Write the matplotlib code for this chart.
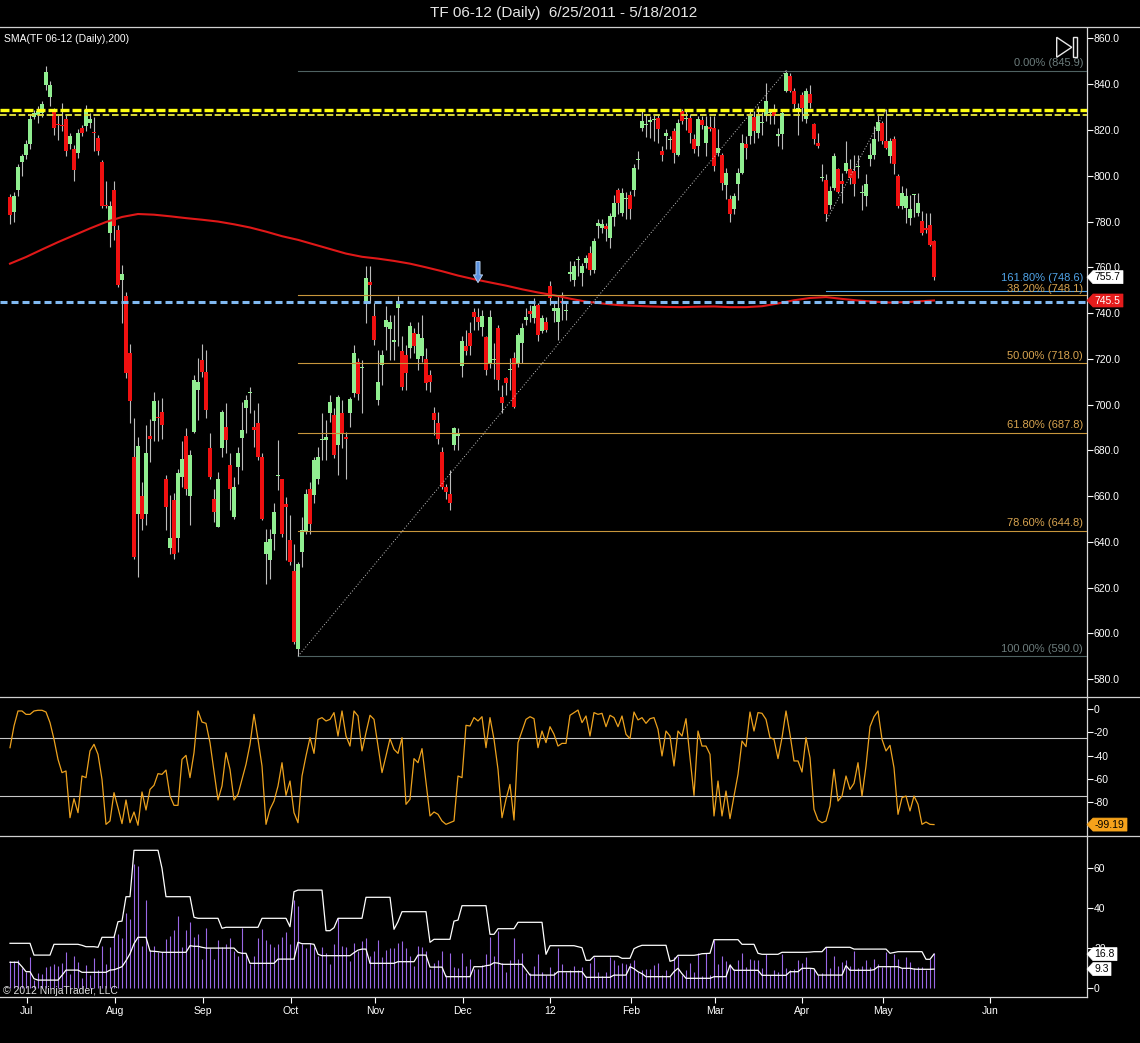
import matplotlib
matplotlib.use('Agg')
import matplotlib.pyplot as plt
import numpy as np
from matplotlib.transforms import IdentityTransform, blended_transform_factory
from matplotlib.patches import Polygon, Rectangle
from matplotlib.lines import Line2D

plt.rcParams['font.family'] = ['Liberation Sans', 'DejaVu Sans']
plt.rcParams['axes.unicode_minus'] = False

# ---------------- DATA ----------------
title = "TF 06-12 (Daily)  6/25/2011 - 5/18/2012"
sma_label = "SMA(TF 06-12 (Daily),200)"
copyright_text = "\u00a9 2012 NinjaTrader, LLC"

opens = [
    790.6, 784.3, 793.7, 806.2, 809.3, 814.0, 825.8, 826.5, 827.3, 839.8,
    834.4, 828.1, 822.5, 821.9, 825.0, 814.0, 811.7, 810.1, 821.1, 821.9,
    823.1, 818.9, 816.4, 806.2, 787.4, 774.9, 793.7, 776.5, 754.6, 747.5,
    722.5, 677.1, 652.1, 659.9, 652.1, 686.5, 692.8, 694.6, 696.7, 667.3,
    637.2, 658.4, 641.9, 668.5, 686.5, 659.9, 688.2, 706.4, 719.3, 714.4,
    680.9, 658.9, 646.5, 680.9, 690.4, 673.5, 650.9, 672.8, 685.2, 698.4,
    705.0, 690.4, 692.1, 677.2, 634.8, 631.9, 643.6, 668.7, 667.3, 656.5,
    640.7, 627.3, 593.2, 635.6, 644.4, 663.3, 660.4, 667.7, 684.5, 684.5,
    696.2, 695.5, 682.3, 696.2, 685.7, 696.2, 704.9, 718.8, 715.9, 744.4,
    753.4, 738.8, 702.0, 717.4, 733.8, 733.0, 727.5, 742.2, 723.5, 721.7,
    724.6, 731.2, 719.8, 721.3, 719.8, 713.0, 696.2, 692.1, 679.4, 663.8,
    660.8, 682.3, 686.5, 716.9, 725.7, 731.2, 740.3, 738.5, 733.8, 729.5,
    718.1, 719.4, 733.4, 703.5, 711.5, 715.0, 720.3, 718.1, 726.9, 737.1,
    740.7, 737.8, 743.6, 732.0, 736.3, 751.7, 740.7, 735.9, 745.1, 741.0,
    757.2, 754.6, 763.0, 757.5, 761.9, 766.3, 759.0, 778.0, 777.2, 778.0,
    772.8, 782.0, 794.0, 783.8, 790.0, 791.8, 794.0, 807.0, 821.0, 822.3,
    823.5, 824.5, 825.4, 810.8, 817.4, 815.8, 819.5, 809.3, 828.3, 825.0,
    825.4, 815.9, 813.0, 824.4, 814.5, 821.3, 821.0, 810.1, 809.3, 795.8,
    790.0, 785.3, 796.2, 801.3, 813.7, 817.4, 825.8, 818.8, 823.0, 826.1,
    827.5, 828.3, 817.4, 818.1, 837.1, 843.7, 837.1, 829.0, 835.2, 824.7,
    835.9, 822.5, 814.5, 799.0, 798.1, 787.4, 794.7, 802.8, 797.6, 802.0,
    802.8, 802.0, 804.0, 792.3, 791.1, 807.2, 809.3, 819.6, 822.9, 815.2,
    808.6, 816.0, 799.8, 786.7, 786.0, 781.6, 791.5, 783.8, 780.1, 777.2,
    778.7, 771.4]

highs = [
    792.1, 792.9, 805.0, 809.7, 815.6, 826.9, 828.9, 830.4, 832.8, 848.0,
    841.4, 829.7, 826.5, 832.0, 826.5, 818.7, 813.3, 820.6, 822.2, 830.9,
    827.3, 825.8, 818.0, 807.0, 797.6, 789.0, 797.6, 778.4, 760.8, 749.1,
    726.4, 694.3, 685.7, 666.2, 691.2, 693.6, 705.3, 702.2, 703.0, 669.3,
    660.7, 661.5, 671.7, 684.2, 689.7, 680.3, 713.0, 720.3, 726.6, 723.9,
    687.7, 663.3, 670.6, 697.6, 700.6, 678.7, 668.4, 681.6, 701.3, 704.2,
    707.9, 697.6, 700.6, 678.7, 645.8, 645.8, 656.8, 684.5, 667.7, 659.7,
    651.6, 639.2, 631.2, 650.9, 663.3, 666.2, 677.2, 681.6, 696.2, 693.3,
    704.2, 698.4, 704.2, 702.0, 688.1, 703.5, 726.1, 720.3, 719.6, 760.4,
    760.4, 744.4, 723.9, 723.9, 742.9, 739.3, 739.3, 747.6, 729.8, 726.1,
    736.3, 733.4, 736.3, 739.3, 724.6, 715.2, 699.1, 696.9, 681.6, 665.5,
    671.4, 690.3, 689.9, 729.8, 732.7, 736.3, 742.2, 742.2, 741.4, 729.8,
    741.4, 727.0, 734.9, 708.6, 712.2, 720.3, 723.2, 731.2, 735.6, 742.2,
    743.6, 746.6, 744.4, 739.3, 738.5, 753.9, 744.4, 748.0, 749.0, 745.0,
    762.6, 762.6, 764.8, 761.9, 765.5, 769.2, 772.8, 780.9, 780.9, 779.4,
    783.8, 791.8, 794.7, 794.7, 793.0, 793.3, 805.0, 810.8, 828.3, 826.5,
    826.1, 826.5, 826.9, 813.0, 820.3, 817.4, 821.0, 824.7, 829.1, 829.0,
    826.9, 818.1, 826.1, 826.1, 826.1, 826.1, 826.1, 820.3, 810.1, 803.5,
    791.8, 792.5, 803.5, 818.1, 817.4, 828.3, 828.3, 830.5, 828.0, 840.7,
    829.0, 831.2, 821.0, 828.3, 846.1, 845.1, 838.5, 832.0, 836.4, 838.5,
    839.6, 823.2, 818.8, 805.0, 800.6, 795.4, 810.1, 803.5, 801.3, 815.2,
    807.2, 809.3, 809.0, 796.0, 800.6, 814.5, 821.7, 826.9, 824.0, 829.3,
    816.6, 817.4, 800.6, 795.4, 794.7, 791.8, 792.0, 792.5, 784.5, 783.8,
    783.8, 772.1]

lows = [
    778.8, 779.6, 791.3, 800.0, 807.5, 811.7, 825.0, 823.1, 825.8, 837.5,
    830.5, 818.0, 815.6, 819.5, 808.6, 811.7, 797.6, 807.8, 817.2, 819.5,
    821.1, 810.9, 809.3, 785.9, 785.9, 768.7, 771.8, 751.4, 735.8, 711.6,
    692.0, 632.5, 624.7, 645.1, 647.4, 674.8, 684.2, 684.2, 685.0, 645.1,
    634.9, 632.5, 635.7, 663.8, 660.7, 647.4, 687.4, 693.3, 712.2, 694.0,
    667.7, 648.7, 646.5, 677.2, 678.7, 653.8, 650.2, 665.5, 671.4, 687.4,
    696.2, 681.6, 675.8, 649.5, 621.7, 623.9, 636.3, 662.6, 642.2, 631.9,
    629.7, 595.4, 590.3, 629.0, 643.6, 643.6, 656.8, 665.5, 675.8, 675.8,
    692.5, 676.5, 669.2, 680.9, 667.7, 690.3, 703.5, 702.0, 696.2, 735.6,
    744.4, 726.1, 699.8, 708.6, 723.9, 719.6, 719.6, 725.4, 706.4, 706.4,
    720.3, 722.5, 715.2, 718.8, 706.4, 705.7, 686.7, 683.0, 663.3, 658.9,
    653.8, 680.1, 680.0, 712.2, 721.7, 721.7, 732.7, 732.7, 729.8, 713.0,
    715.9, 711.0, 706.4, 696.2, 704.2, 706.4, 698.4, 716.6, 718.1, 734.9,
    736.3, 735.6, 727.6, 731.2, 731.9, 743.6, 736.3, 728.3, 737.1, 737.0,
    753.9, 751.7, 756.0, 751.7, 759.7, 756.8, 757.5, 772.8, 775.1, 771.4,
    768.4, 778.0, 783.1, 782.3, 781.0, 780.9, 791.0, 802.8, 819.5, 817.0,
    816.6, 815.0, 814.5, 806.4, 811.5, 811.5, 805.7, 808.6, 822.5, 820.0,
    814.5, 810.1, 808.6, 820.3, 808.6, 819.6, 802.0, 808.6, 794.0, 790.0,
    779.7, 783.1, 789.6, 800.6, 807.2, 813.7, 814.5, 816.6, 818.0, 824.0,
    822.5, 822.5, 813.0, 811.5, 836.4, 836.4, 829.0, 818.0, 824.0, 823.2,
    829.8, 813.7, 812.3, 797.6, 780.1, 785.3, 794.0, 792.5, 788.2, 801.3,
    796.2, 791.1, 799.0, 785.0, 786.7, 804.2, 807.2, 815.2, 813.7, 811.5,
    805.7, 800.6, 786.0, 785.3, 779.4, 778.7, 782.0, 782.3, 774.3, 775.0,
    769.2, 754.6]

closes = [
    782.7, 791.3, 803.9, 808.6, 813.7, 825.0, 827.3, 828.4, 831.3, 845.3,
    839.8, 821.1, 822.0, 821.7, 810.9, 817.2, 802.6, 818.7, 818.7, 828.9,
    824.7, 818.6, 810.9, 786.7, 786.7, 786.7, 778.1, 752.2, 756.9, 713.9,
    701.4, 633.3, 681.8, 649.8, 678.7, 685.0, 701.4, 694.3, 691.2, 655.2,
    641.9, 634.9, 670.1, 676.4, 663.1, 677.9, 710.8, 710.0, 714.4, 697.6,
    668.4, 653.1, 667.7, 696.9, 684.5, 663.3, 664.0, 678.7, 688.9, 702.0,
    705.3, 689.0, 677.2, 650.2, 640.0, 641.4, 653.1, 668.9, 643.6, 655.3,
    631.2, 596.2, 630.5, 645.1, 661.1, 648.0, 675.8, 677.2, 684.7, 685.9,
    701.3, 677.9, 703.5, 687.4, 684.8, 702.3, 722.5, 704.6, 716.1, 755.3,
    752.4, 728.3, 710.0, 721.8, 737.1, 736.3, 728.3, 745.1, 707.9, 713.7,
    734.4, 725.7, 730.9, 729.0, 709.6, 710.1, 693.3, 684.8, 664.1, 661.9,
    656.8, 689.6, 686.9, 728.0, 723.6, 725.4, 738.5, 735.9, 738.8, 715.2,
    738.2, 719.8, 710.8, 700.6, 709.3, 715.3, 699.1, 730.5, 733.4, 738.2,
    739.7, 742.9, 730.5, 737.8, 732.7, 746.6, 742.2, 742.2, 744.4, 741.3,
    757.8, 760.4, 763.3, 760.4, 764.1, 759.0, 771.4, 779.4, 779.1, 776.8,
    782.6, 788.2, 788.2, 792.5, 790.3, 785.3, 803.5, 807.2, 823.9, 822.6,
    824.5, 824.8, 820.3, 809.3, 818.8, 815.9, 810.1, 823.2, 824.0, 825.2,
    818.8, 811.5, 824.7, 822.0, 821.7, 820.3, 804.2, 812.3, 797.0, 801.3,
    783.5, 791.1, 801.3, 814.5, 812.3, 826.9, 819.5, 826.9, 823.3, 832.7,
    827.7, 826.1, 818.4, 827.6, 845.1, 837.1, 831.2, 829.2, 829.8, 837.1,
    832.0, 815.9, 813.0, 799.2, 783.5, 793.3, 808.6, 792.8, 796.2, 805.7,
    799.1, 796.6, 804.2, 792.5, 796.6, 809.3, 815.9, 823.5, 815.2, 812.3,
    815.2, 805.0, 786.7, 792.5, 791.1, 785.3, 791.8, 787.9, 775.1, 776.2,
    769.9, 755.7]

# SMA(200) read every 4th bar (bars 0,4,...,228) plus the last bar (231)
sma_every4 = [761.6, 764.5, 767.8, 771.0, 774.0, 777.0, 779.8, 782.0, 783.3, 783.0,
              782.3, 781.5, 780.8, 780.0, 778.8, 777.4, 775.6, 773.6, 772.0, 770.0,
              768.0, 766.0, 764.6, 763.8, 762.8, 761.6, 760.0, 758.3, 756.4, 754.8,
              753.4, 752.0, 750.4, 749.0, 747.8, 746.3, 745.0, 744.2, 743.5, 743.2,
              742.9, 742.7, 742.6, 742.8, 742.9, 742.6, 742.6, 743.0, 744.2, 745.6,
              746.6, 747.0, 746.2, 745.5, 745.0, 744.6, 744.8, 745.2]
sma_last = 745.5

williams_r = [
    -33.2, -14.6, -1.7, -1.7, -4.6, -4.6, -1.7, -1.1, -1.1, -2.6,
    -11.7, -26.0, -43.2, -54.6, -53.2, -93.3, -77.0, -89.0, -57.5, -58.9,
    -36.0, -30.3, -38.9, -60.4, -99.0, -96.1, -71.8, -84.7, -98.4, -78.1,
    -97.6, -88.4, -99.8, -71.2, -86.7, -69.0, -65.5, -55.5, -56.1, -52.4,
    -74.7, -82.7, -82.7, -43.2, -39.8, -58.9, -37.5, -1.7, -11.2, -12.3,
    -28.9, -53.2, -78.1, -66.1, -37.5, -51.8, -78.1, -73.2, -60.4, -47.5,
    -30.3, -4.6, -26.0, -48.9, -99.0, -86.1, -79.0, -66.1, -46.1, -74.1,
    -61.8, -89.0, -97.6, -57.5, -40.3, -24.6, -38.1, -8.9, -7.4, -10.3,
    -8.9, -3.1, -23.2, -1.7, -23.2, -31.8, -1.7, -6.0, -36.0, -20.3,
    -5.4, -8.9, -31.8, -54.6, -40.3, -25.5, -34.6, -38.1, -24.6, -81.8,
    -77.5, -42.6, -46.1, -34.0, -63.2, -91.8, -88.4, -90.4, -96.1, -99.0,
    -97.6, -96.1, -57.5, -58.9, -14.0,
    -14.6, -7.4, -10.3, -6.6, -33.2, -7.4, -26.0, -51.8, -93.3, -77.5,
    -64.7, -95.3, -28.9, -18.9, -8.9, -6.6, -8.3, -33.2, -18.9, -28.9,
    -15.2, -21.7, -31.8, -29.5, -29.5, -5.4, -3.1, -0.9, -11.7, -6.0,
    -23.2, -3.1, -4.6, -3.7, -15.2, -5.4, -7.4, -15.2, -6.0, -21.7,
    -25.5, -2.6, -9.4, -7.4, -12.3, -8.3, -7.4, -17.5, -40.3, -18.9,
    -23.2, -48.9, -18.9, -23.2, -8.3, -41.8, -74.1, -18.9, -31.8, -31.8,
    -38.9, -91.8, -61.8, -91.8, -70.4, -94.1, -74.7, -56.1, -27.5, -32.3,
    -2.6, -18.9, -3.1, -3.7, -8.9, -24.6, -26.0, -42.6, -24.6, -1.7,
    -21.7, -44.6, -44.6, -54.1, -24.6, -41.8, -86.1, -95.3, -97.6, -96.1,
    -83.3, -51.8, -79.0, -74.7, -57.5, -69.0, -63.8, -46.1, -74.7, -48.9,
    -15.2, -6.6, -1.7, -26.0, -36.0, -31.2, -50.4, -90.4, -76.1, -74.7,
    -87.5, -74.7, -81.8, -99.0, -97.0, -99.0, -99.19]

range_upper = ([22.2]*6 + [16.3]*5 + [21.7]*7 + [21.2] + [20.5]*3 + [20.2] + [25.2]*4 +
               [33.0] + [33.3] + [45.5]*2 + [68.7]*7 + [59.7] + [45.5]*7 + [35.2] +
               [34.7]*6 + [29.7] + [30.2]*9 + [34.7]*7 + [30.5] + [48.0] + [48.8]*7 +
               [28.5]*2 + [30.0] + [34.7]*7 + [45.2]*7 + [29.2] + [33.0] + [38.0]*7 +
               [22.7] + [24.2]*5 + [33.3] + [33.8] + [41.0]*7 + [26.7]*2 + [29.5]*5 +
               [32.7]*7 + [16.7] + [21.0]*7 + [20.5] + [20.0] + [13.7]*2 + [15.7]*7 +
               [14.7]*3 + [19.5] + [20.5] + [21.2]*7 + [13.2] + [13.8] + [16.2]*5 +
               [16.5] + [17.0] + [17.1] + [17.2] + [24.0]*7 + [21.7]*4 + [17.2] +
               [16.7]*5 + [17.7]*7 + [17.8] + [18.0]*3 + [20.2]*7 + [19.3]*9 + [17.2] +
               [17.6] + [18.0]*7 + [14.2]*2 + [16.8])

range_lower = ([12.7]*3 + [10.5] + [8.0]*2 + [4.5] + [3.8]*6 + [6.2] + [8.8]*4 + [7.7]*7 +
               [8.8] + [9.0] + [9.7] + [10.5] + [13.5] + [17.0] + [22.0] + [25.2]*3 +
               [18.3] + [18.2] + [18.0] + [17.7]*7 + [21.0] + [20.7]*2 + [20.2] +
               [19.8]*8 + [17.7] + [17.2]*2 + [12.2]*7 + [14.3]*5 + [22.7] + [22.0]*3 +
               [21.7] + [16.7] + [16.0]*8 + [17.5] + [18.8] + [19.3]*2 + [12.2]*7 +
               [13.0]*5 + [16.3]*3 + [10.3]*4 + [5.5]*7 + [10.5]*3 + [11.0] + [11.3] +
               [12.5] + [12.3] + [11.7]*6 + [9.0] + [6.3]*7 + [8.0]*7 + [5.2]*7 +
               [6.3]*4 + [10.5] + [9.5] + [8.0] + [7.0] + [5.5]*7 + [8.0] + [9.7] +
               [7.0] + [4.7]*7 + [5.5]*4 + [11.3] + [8.7]*7 + [6.2]*7 + [8.0]*3 +
               [9.7]*3 + [9.5] + [6.3]*7 + [11.0] + [8.7]*6 + [9.0] + [10.5]*6 +
               [9.7]*3 + [9.3] + [9.2]*4 + [9.3])

month_labels = ["Jul", "Aug", "Sep", "Oct", "Nov", "Dec", "12", "Feb", "Mar", "Apr", "May", "Jun"]

price_ticks = [580, 600, 620, 640, 660, 680, 700, 720, 740, 760, 780, 800, 820, 840, 860]
wr_ticks = [0, -20, -40, -60, -80]
wr_levels = [-25, -75]
range_ticks = [0, 20, 40, 60]

# drawing objects (user drawn on chart)
yellow_lines = [828.8, 826.6]
blue_line = 745.0
fib_low_bar, fib_low = 72, 590.0
fib_high_bar, fib_high = 194, 845.9
fib_levels = [845.9, 748.1, 718.0, 687.8, 644.8, 590.0]
fib_texts = ["0.00% (845.9)", "38.20% (748.1)", "50.00% (718.0)",
             "61.80% (687.8)", "78.60% (644.8)", "100.00% (590.0)"]
ext_start_bar, ext_start_val = 204, 780.1
ext_end_bar, ext_end_val = 219, 829.0
ext_level = 749.7
ext_text = "161.80% (748.6)"
arrow_bar, arrow_top, arrow_tip = 117, 762.5, 753.3

# ---------------- LAYOUT ----------------
W, H = 1140, 1043
fig = plt.figure(figsize=(W / 100, H / 100), dpi=100, facecolor='black')

def fy(y):
    return 1 - y / H

RIGHT = 1086.5
TOP, SEP1, SEP2, BOT = 27.5, 697.3, 836.0, 996.7
ax1 = fig.add_axes([0, fy(SEP1), RIGHT / W, (SEP1 - TOP) / H])
ax2 = fig.add_axes([0, fy(SEP2), RIGHT / W, (SEP2 - SEP1) / H], sharex=ax1)
ax3 = fig.add_axes([0, fy(BOT), RIGHT / W, (BOT - SEP2) / H], sharex=ax1)

N = len(closes)
x = np.arange(N)
o = np.array(opens); h = np.array(highs); l = np.array(lows); c = np.array(closes)

GREY = '#c8c8c8'
for ax in (ax1, ax2, ax3):
    ax.set_facecolor('black')
    for s in ('left', 'top', 'bottom'):
        ax.spines[s].set_visible(False)
    ax.spines['right'].set_color('#d8d8d8')
    ax.spines['right'].set_linewidth(0.9)
    ax.yaxis.tick_right()
    ax.tick_params(axis='y', colors='white', labelcolor='white', labelsize=7.5,
                   length=4.2, width=0.8, pad=1.2)
    ax.tick_params(axis='x', bottom=False, labelbottom=False)

ax3.spines['bottom'].set_visible(True)
ax3.spines['bottom'].set_color('#d8d8d8')
ax3.spines['bottom'].set_linewidth(0.9)

ax1.set_xlim(-10 / 4.0, (RIGHT - 10) / 4.0)
ax1.set_ylim(572.1, 864.8)
ax2.set_ylim(-109.0, 10.04)
ax3.set_ylim(-4.5, 75.85)

# ---------------- PRICE PANEL ----------------
ax1.vlines(x, l, h, color='#bcbcbc', lw=0.8, zorder=2)
up = c >= o
bb = np.minimum(o, c)
bh = np.maximum(np.abs(c - o), 0.45)
ax1.bar(x[up], bh[up], bottom=bb[up], width=0.78, color='#90ee90', linewidth=0, zorder=3)
ax1.bar(x[~up], bh[~up], bottom=bb[~up], width=0.78, color='#f01010', linewidth=0, zorder=3)

sma_x = list(range(0, 4 * len(sma_every4), 4)) + [N - 1]
sma_y = sma_every4 + [sma_last]
ax1.plot(sma_x, sma_y, color='#e01818', lw=1.5, zorder=4)

# horizontal dashed lines
ln = ax1.axhline(yellow_lines[0], color='#ffff10', lw=2.4, zorder=5)
ln.set_dashes((2.7, 0.9))
ln = ax1.axhline(yellow_lines[1], color='#d8d838', lw=1.4, zorder=5)
ln.set_dashes((3.4, 1.4))
ln = ax1.axhline(blue_line, color='#80b8f0', lw=2.2, zorder=5)
ln.set_dashes((2.3, 1.3))

xr = ax1.get_xlim()[1]
bt = blended_transform_factory(ax1.transAxes, ax1.transData)
for lev, txt in zip(fib_levels, fib_texts):
    grey = lev in (fib_levels[0], fib_levels[-1])
    lc = '#4f6262' if grey else '#c8963c'
    tc = '#6c7c7c' if grey else '#d8a450'
    ax1.plot([fib_low_bar, xr], [lev, lev], color=lc, lw=0.8, zorder=4)
    dy = 5.8 if lev == fib_levels[1] else 7.5
    ax1.annotate(txt, xy=(1, lev), xycoords=bt, xytext=(-3.5, dy),
                 textcoords='offset pixels', ha='right', va='center',
                 fontsize=8, color=tc, zorder=6)
ax1.plot([ext_start_bar, xr], [ext_level, ext_level], color='#50a4e8', lw=0.8, zorder=4)
ax1.annotate(ext_text, xy=(1, ext_level), xycoords=bt, xytext=(-3.5, 12.5),
             textcoords='offset pixels', ha='right', va='center',
             fontsize=8, color='#50a4e8', zorder=6)

ax1.plot([fib_low_bar, fib_high_bar], [fib_low, fib_high], color='#c8c8c8', lw=0.7,
         ls=(0, (1, 2)), zorder=4)
ax1.plot([ext_start_bar, ext_end_bar], [ext_start_val, ext_end_val], color='#c8c8c8',
         lw=0.7, ls=(0, (1, 2)), zorder=4)

ax1.annotate('', xy=(arrow_bar, arrow_tip), xytext=(arrow_bar, arrow_top),
             arrowprops=dict(arrowstyle='simple,head_width=0.95,head_length=0.8,tail_width=0.42',
                             fc='#5b92de', ec='#c0d8f6', lw=0.6, mutation_scale=7,
                             shrinkA=0, shrinkB=0), zorder=8)

ax1.set_yticks(price_ticks)
ax1.set_yticklabels([f"{v:.1f}" for v in price_ticks])

# ---------------- WILLIAMS %R PANEL ----------------
for lev in wr_levels:
    ax2.axhline(lev, color=GREY, lw=0.8, zorder=1)
ax2.plot(x, williams_r, color='#eda21e', lw=0.9, zorder=3)
ax2.set_yticks(wr_ticks)
ax2.set_yticklabels([str(v) for v in wr_ticks])

# ---------------- RANGE PANEL ----------------
bar_range = h - l
ax3.vlines(x, 0, bar_range, color='#9a68e6', lw=0.8, zorder=2)
ax3.plot(x, range_upper, color='white', lw=0.9, zorder=3)
ax3.plot(x, range_lower, color='white', lw=0.9, zorder=3)
ax3.set_yticks(range_ticks)
ax3.set_yticklabels([str(v) for v in range_ticks])

# month ticks (pixel positions of the labels on the reference)
tick_px = [26.7, 115, 202.7, 291, 375, 462.7, 550, 630.7, 715, 802, 882.7, 990]
ax3.set_xticks([(p - 10) / 4.0 for p in tick_px])
ax3.set_xticklabels(month_labels)
ax3.tick_params(axis='x', bottom=True, labelbottom=True, colors='white', labelcolor='white',
                labelsize=7.5, length=4.5, width=0.8, direction='out', pad=2)

# ---------------- FIGURE DECORATIONS ----------------
for yy in (27.3, SEP1, SEP2):
    fig.add_artist(Line2D([0, 1], [fy(yy), fy(yy)], transform=fig.transFigure,
                          color='#d0d0d0', lw=0.9))

fig.text(563.8 / W, fy(13.5), title, ha='center', va='center', fontsize=11, color='#e6e6e6')
fig.text(4 / W, fy(38.5), sma_label, ha='left', va='center', fontsize=7.5, color='white')
fig.text(3 / W, fy(991), copyright_text, ha='left', va='center', fontsize=7.5, color='#e0e0e0')

ident = IdentityTransform()
# play/end icon
fig.add_artist(Polygon([(1056.7, H - 37.3), (1071.7, H - 47.3), (1056.7, H - 57.3)],
                       closed=True, fill=False, ec='#e8e8e8', lw=1.0, transform=ident))
fig.add_artist(Rectangle((1073.3, H - 57.3), 3.4, 20, fill=False, ec='#e8e8e8', lw=1.0,
                         transform=ident))

fig.canvas.draw()

def tag(ax, val, text, fc, tc, w):
    y = ax.transData.transform((0, val))[1]
    x0 = ax.transAxes.transform((1, 0))[0] + 0.5
    hh = 6.5
    pts = [(x0, y), (x0 + 6, y + hh), (x0 + w, y + hh), (x0 + w, y - hh), (x0 + 6, y - hh)]
    fig.add_artist(Polygon(pts, closed=True, fc=fc, ec=fc, lw=0.5, transform=ident, zorder=10))
    fig.add_artist(plt.Text(x0 + 7.5, y, text, ha='left', va='center', fontsize=7.5,
                            color=tc, transform=ident, zorder=11,
                            fontfamily=['Liberation Sans', 'DejaVu Sans']))

tag(ax1, closes[-1], f"{closes[-1]:.1f}", 'white', 'black', 36)
tag(ax1, sma_last, f"{sma_last:.1f}", '#e41c1c', 'white', 36)
tag(ax2, williams_r[-1], f"{williams_r[-1]:.2f}", '#f5a21b', 'black', 40)
tag(ax3, range_upper[-1], f"{range_upper[-1]:.1f}", 'white', 'black', 30)
tag(ax3, range_lower[-1], f"{range_lower[-1]:.1f}", 'white', 'black', 24)

fig.savefig('out.png', dpi=100, facecolor='black')
